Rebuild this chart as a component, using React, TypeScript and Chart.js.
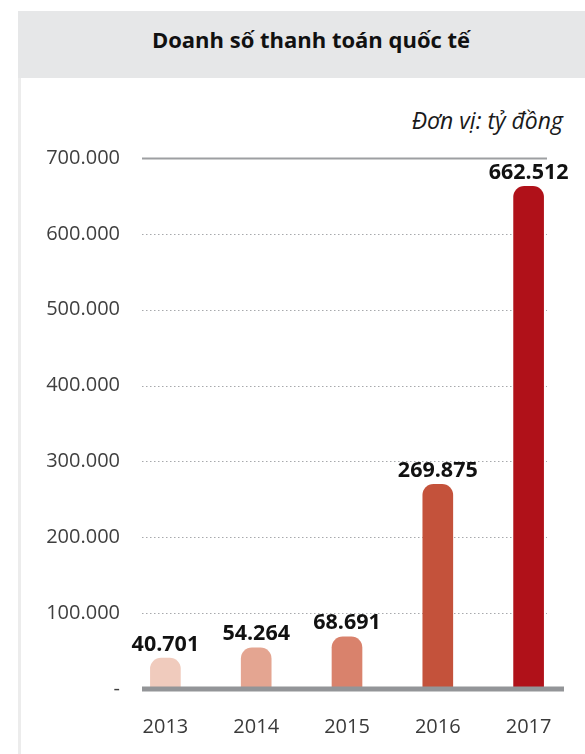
import React, { useEffect, useRef } from "react";
import { Chart, registerables } from "chart.js";

Chart.register(...registerables);

const TITLE = "Doanh số thanh toán quốc tế";
const UNIT = "Đơn vị: tỷ đồng";
const years = ["2013", "2014", "2015", "2016", "2017"];
const values = [40701, 54264, 68691, 269875, 662512];
const barColors = ["#f0cbbd", "#e4a591", "#d9826c", "#c4523b", "#b01119"];
const yMin = 0;
const yMax = 700000;
const yStep = 100000;

const FONT = "'Open Sans', 'Noto Sans', sans-serif";

function fmt(v: number): string {
  if (v === 0) return "-";
  return String(Math.round(v)).replace(/\B(?=(\d{3})+(?!\d))/g, ".");
}

const decorPlugin = {
  id: "decor",
  beforeDatasetsDraw(chart: any) {
    const ctx = chart.ctx;
    const y = chart.scales.y;
    const x0 = 142;
    const x1 = 547;
    ctx.save();
    y.ticks.forEach((t: any) => {
      const py = Math.round(y.getPixelForValue(t.value)) + 0.5;
      if (t.value === yMin) return;
      ctx.beginPath();
      if (t.value === yMax) {
        ctx.setLineDash([]);
        ctx.strokeStyle = "#9d9fa2";
        ctx.lineWidth = 2;
      } else {
        ctx.setLineDash([1.5, 2.5]);
        ctx.strokeStyle = "#a7a9ac";
        ctx.lineWidth = 1;
      }
      ctx.moveTo(x0, py);
      ctx.lineTo(x1, py);
      ctx.stroke();
    });
    ctx.restore();
  },
  afterDatasetsDraw(chart: any) {
    const ctx = chart.ctx;
    const y = chart.scales.y;
    ctx.save();
    const by = y.getPixelForValue(0);
    ctx.fillStyle = "#939598";
    ctx.fillRect(142, by - 2.5, 564 - 142, 5);
    const meta = chart.getDatasetMeta(0);
    ctx.font = `700 21.5px ${FONT}`;
    ctx.fillStyle = "#111111";
    ctx.textAlign = "center";
    ctx.textBaseline = "bottom";
    meta.data.forEach((bar: any, i: number) => {
      ctx.fillText(fmt(values[i]), bar.x, bar.y - 3);
    });
    ctx.restore();
  },
};

export default function App() {
  const canvasRef = useRef<HTMLCanvasElement | null>(null);

  useEffect(() => {
    document.body.style.margin = "0";
    const canvas = canvasRef.current;
    if (!canvas) return;
    const chart = new Chart(canvas, {
      type: "bar",
      data: {
        labels: years,
        datasets: [
          {
            data: values,
            backgroundColor: barColors,
            borderWidth: 0,
            borderRadius: { topLeft: 11, topRight: 11, bottomLeft: 0, bottomRight: 0 },
            borderSkipped: false,
            barThickness: 30,
          },
        ],
      },
      options: {
        responsive: false,
        animation: false,
        devicePixelRatio: 1,
        layout: { padding: { top: 158, right: 11, left: 0, bottom: 0 } },
        plugins: {
          legend: { display: false },
          tooltip: { enabled: false },
          title: { display: false },
        },
        scales: {
          x: {
            type: "category",
            grid: { display: false, drawTicks: false },
            border: { display: false },
            ticks: {
              padding: 26,
              color: "#3a3a3a",
              font: { family: FONT, size: 20, weight: "400" },
              maxRotation: 0,
            },
            afterFit(scale: any) {
              scale.height = 65;
            },
          },
          y: {
            type: "linear",
            min: yMin,
            max: yMax,
            grid: { display: false, drawTicks: false },
            border: { display: false },
            ticks: {
              stepSize: yStep,
              padding: 0,
              color: "#3f3f3f",
              font: { family: FONT, size: 20, weight: "400" },
              callback: (v: any) => fmt(Number(v)),
            },
            afterFit(scale: any) {
              scale.width = 120;
            },
          },
        },
      },
      plugins: [decorPlugin],
    });
    return () => chart.destroy();
  }, []);

  return (
    <div style={{ position: "absolute", left: 0, top: 0, width: 585, height: 754, background: "#ffffff", overflow: "hidden" }}>
      <div
        style={{
          position: "absolute",
          left: 18,
          top: 11,
          width: 567,
          height: 67,
          background: "#e6e7e8",
        }}
      />
      <div
        style={{
          position: "absolute",
          left: 18,
          top: 78,
          width: 3,
          height: 676,
          background: "#ececec",
        }}
      />
      <div
        style={{
          position: "absolute",
          left: 0,
          width: 622,
          top: 24,
          textAlign: "center",
          fontFamily: FONT,
          fontWeight: 700,
          fontSize: 22,
          lineHeight: "30px",
          color: "#111111",
        }}
      >
        {TITLE}
      </div>
      <div
        style={{
          position: "absolute",
          right: 22,
          top: 104,
          fontFamily: FONT,
          fontStyle: "italic",
          fontSize: 23,
          lineHeight: "32px",
          color: "#1a1a1a",
        }}
      >
        {UNIT}
      </div>
      <canvas
        ref={canvasRef}
        width={585}
        height={754}
        style={{ position: "absolute", left: 0, top: 0, width: 585, height: 754 }}
      />
    </div>
  );
}
